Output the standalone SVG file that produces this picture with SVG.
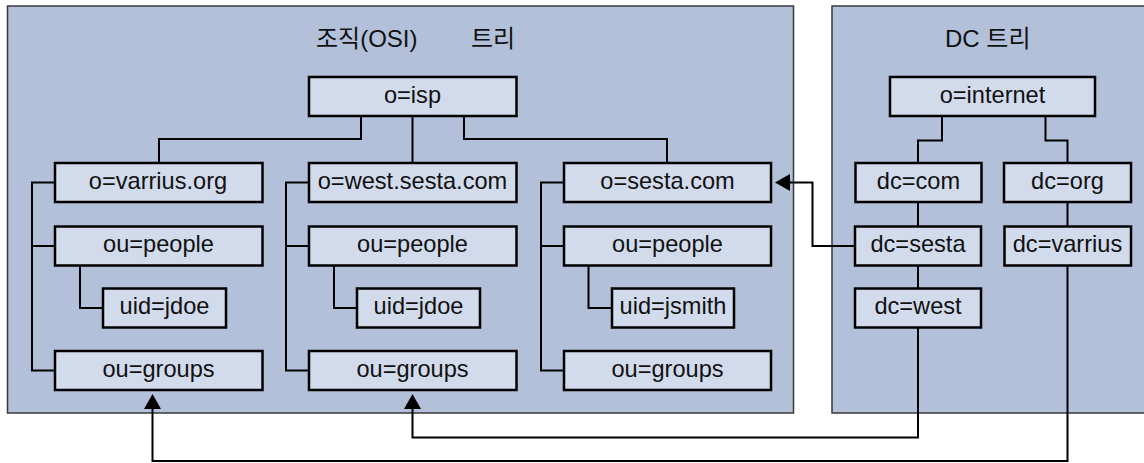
<svg xmlns="http://www.w3.org/2000/svg" width="1144" height="463" viewBox="0 0 1144 463">
  <style>
    .panel { fill: #b3c0d9; stroke: #3a3a3a; stroke-width: 1.5; }
    .node rect { fill: #d2dbec; stroke: #000; stroke-width: 2.5; }
    .node text, .title { font-family: "Liberation Sans", Arial, "Noto Sans CJK KR", sans-serif; font-size: 23.6px; fill: #111; }
    .title { font-size: 24px; }
    .node text { text-anchor: middle; }
    .link { fill: none; stroke: #000; stroke-width: 2; }
    .ref { fill: none; stroke: #000; stroke-width: 2; marker-end: url(#arrow); }
  </style>
  <defs>
    <marker id="arrow" markerUnits="userSpaceOnUse" markerWidth="16" markerHeight="17" refX="11" refY="8.5" orient="auto">
      <path d="M0,0 L15,8.5 L0,17 z" fill="#000"/>
    </marker>
  </defs>

  <!-- background panels -->
  <g id="osi-panel">
    <rect class="panel" x="7.5" y="6" width="786" height="407"/>
    <text class="title" x="316" y="47">조직(OSI)<tspan x="471">트리</tspan></text>
  </g>
  <g id="dc-panel">
    <rect class="panel" x="832" y="6" width="330" height="407"/>
    <text class="title" x="945" y="47">DC 트리</text>
  </g>

  <!-- connectors -->
  <g id="connectors">
    <!-- organization tree -->
    <path class="link" d="M361,116 V139 H159 V163"/>
    <path class="link" d="M412.5,116 V163"/>
    <path class="link" d="M464,116 V139 H667 V163"/>
    <path class="link" d="M55,182.5 H32 V370.5 H55 M32,246 H55"/>
    <path class="link" d="M80,265.5 V308 H103"/>
    <path class="link" d="M309,182.5 H286 V370.5 H309 M286,246 H309"/>
    <path class="link" d="M334,265.5 V308 H357"/>
    <path class="link" d="M564,182.5 H541 V370.5 H564 M541,246 H564"/>
    <path class="link" d="M588.5,265.5 V308 H612"/>
    <!-- DC tree -->
    <path class="link" d="M942,116 V140.5 H918 V163"/>
    <path class="link" d="M1045.5,116 V140.5 H1067.5 V163"/>
    <path class="link" d="M918,202 V226.5"/>
    <path class="link" d="M1067.5,202 V226.5"/>
    <path class="link" d="M918,265.5 V288.5"/>
    <!-- cross references -->
    <path class="ref" d="M855,246 H812.5 V182.5 H779"/>
    <path class="ref" d="M918,327.5 V437.5 H412.5 V398"/>
    <path class="ref" d="M1067.5,265.5 V461 H152.5 V398"/>
  </g>

  <!-- organization tree nodes -->
  <g id="o-isp" class="node"><rect x="309" y="77" width="207.5" height="39"/><text x="412.5" y="102.5">o=isp</text></g>
  <g id="o-varrius" class="node"><rect x="55" y="163" width="207.5" height="39"/><text x="158" y="188.5">o=varrius.org</text></g>
  <g id="ou-people-1" class="node"><rect x="55" y="226.5" width="207.5" height="39"/><text x="158.5" y="252">ou=people</text></g>
  <g id="uid-jdoe-1" class="node"><rect x="103" y="288.5" width="123" height="39"/><text x="164.5" y="314">uid=jdoe</text></g>
  <g id="ou-groups-1" class="node"><rect x="55" y="351" width="207.5" height="39"/><text x="158.5" y="376.5">ou=groups</text></g>

  <g id="o-west-sesta" class="node"><rect x="309" y="163" width="207.5" height="39"/><text x="412.5" y="188.5">o=west.sesta.com</text></g>
  <g id="ou-people-2" class="node"><rect x="309" y="226.5" width="207.5" height="39"/><text x="412.5" y="252">ou=people</text></g>
  <g id="uid-jdoe-2" class="node"><rect x="357" y="288.5" width="123" height="39"/><text x="418.5" y="314">uid=jdoe</text></g>
  <g id="ou-groups-2" class="node"><rect x="309" y="351" width="207.5" height="39"/><text x="412.5" y="376.5">ou=groups</text></g>

  <g id="o-sesta" class="node"><rect x="564" y="163" width="207" height="39"/><text x="667.5" y="188.5">o=sesta.com</text></g>
  <g id="ou-people-3" class="node"><rect x="564" y="226.5" width="207" height="39"/><text x="667.5" y="252">ou=people</text></g>
  <g id="uid-jsmith" class="node"><rect x="612" y="288.5" width="122" height="39"/><text x="673" y="314">uid=jsmith</text></g>
  <g id="ou-groups-3" class="node"><rect x="564" y="351" width="207" height="39"/><text x="667.5" y="376.5">ou=groups</text></g>

  <!-- DC tree nodes -->
  <g id="o-internet" class="node"><rect x="890" y="77" width="205" height="39"/><text x="992.5" y="102.5">o=internet</text></g>
  <g id="dc-com" class="node"><rect x="855.5" y="163" width="126" height="39"/><text x="918.5" y="188.5">dc=com</text></g>
  <g id="dc-org" class="node"><rect x="1004" y="163" width="127" height="39"/><text x="1067.5" y="188.5">dc=org</text></g>
  <g id="dc-sesta" class="node"><rect x="855" y="226.5" width="126" height="39"/><text x="918" y="252">dc=sesta</text></g>
  <g id="dc-varrius" class="node"><rect x="1004.5" y="226.5" width="126.5" height="39"/><text x="1067.5" y="252">dc=varrius</text></g>
  <g id="dc-west" class="node"><rect x="855" y="288.5" width="126" height="39"/><text x="918" y="314">dc=west</text></g>
</svg>
